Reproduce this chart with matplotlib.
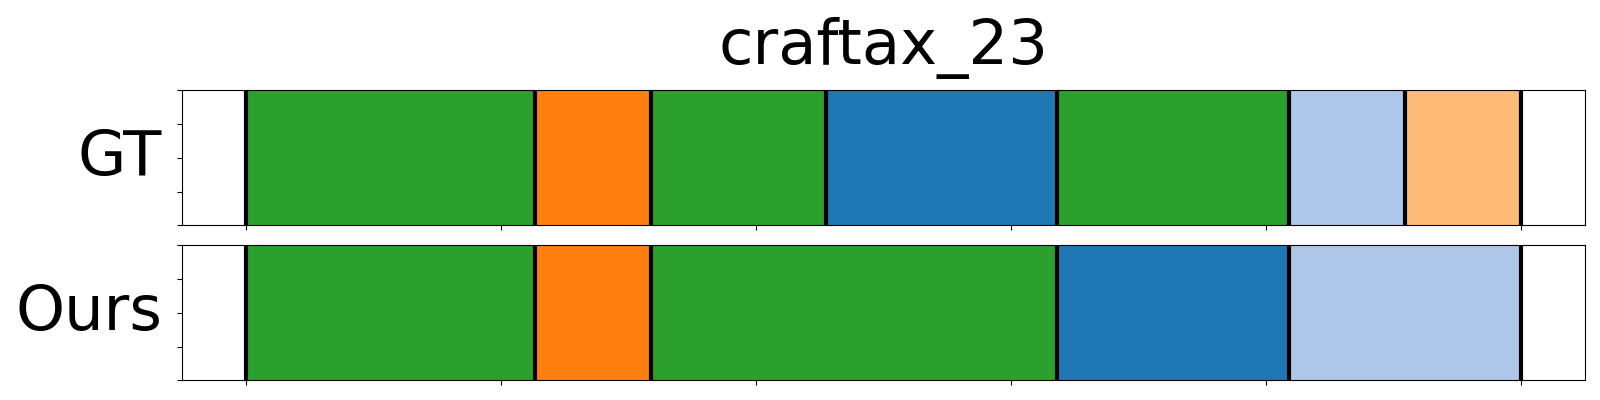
import matplotlib

matplotlib.use("Agg")
import matplotlib.pyplot as plt

TITLE = "craftax_23"
ROW_LABELS = ["GT", "Ours"]

# normalised segment boundaries (start, end) and the skill colour of each segment
gt_bounds = [0.0, 0.227, 0.318, 0.455, 0.636, 0.818, 0.909, 1.0]
gt_colors = ["#2ca02c", "#ff7f0e", "#2ca02c", "#1f77b4", "#2ca02c", "#aec7e8", "#ffbb78"]

ours_bounds = [0.0, 0.227, 0.318, 0.636, 0.818, 1.0]
ours_colors = ["#2ca02c", "#ff7f0e", "#2ca02c", "#1f77b4", "#aec7e8"]


def draw_segments(ax, bounds, colors, label):
    for start, end, color in zip(bounds[:-1], bounds[1:], colors):
        ax.axvspan(start, end, ymin=0, ymax=1, facecolor=color, edgecolor=color, lw=0.5)
    for b in bounds:
        ax.axvline(b, color="black", lw=3)
    ax.set_ylim(0, 1)
    ax.set_xlim(-0.05, 1.05)
    ax.set_xticks([0.0, 0.2, 0.4, 0.6, 0.8, 1.0])
    ax.set_yticks([0.0, 0.25, 0.5, 0.75, 1.0])
    ax.set_xticklabels([])
    ax.set_yticklabels([])
    ax.set_ylabel(label, fontsize=45, rotation=0, ha="right", va="center", labelpad=7)


fig = plt.figure(figsize=(16, 4), dpi=100)
ax_gt = fig.add_axes([0.1136, 0.437, 0.8772, 0.337])
ax_ours = fig.add_axes([0.1136, 0.049, 0.8772, 0.338])

draw_segments(ax_gt, gt_bounds, gt_colors, ROW_LABELS[0])
draw_segments(ax_ours, ours_bounds, ours_colors, ROW_LABELS[1])
ax_gt.set_title(TITLE, fontsize=45, pad=19)

fig.savefig("out.png", dpi=100)
plt.close(fig)
